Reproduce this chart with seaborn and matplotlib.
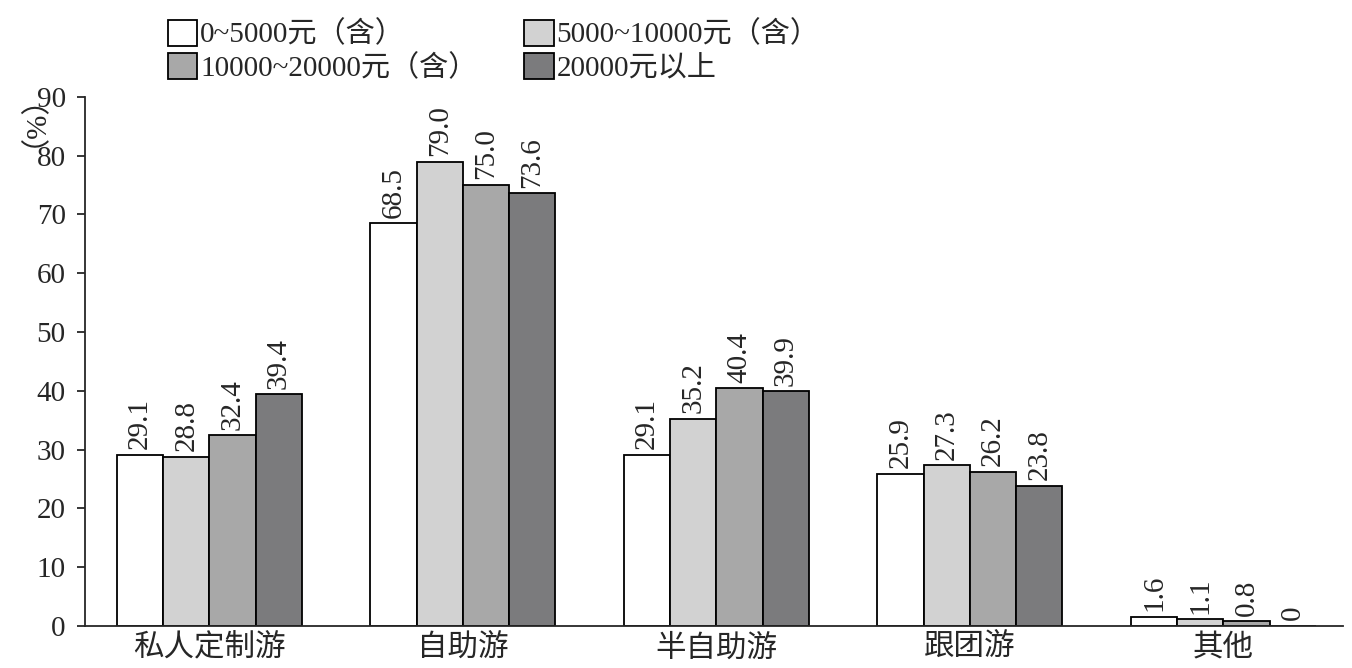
import matplotlib
matplotlib.use("Agg")
import matplotlib.pyplot as plt
import seaborn as sns
import pandas as pd

categories = ["私人定制游", "自助游", "半自助游", "跟团游", "其他"]
series = ["0~5000元（含）", "5000~10000元（含）", "10000~20000元（含）", "20000元以上"]
v1 = [29.1, 68.5, 29.1, 25.9, 1.6]
v2 = [28.8, 79.0, 35.2, 27.3, 1.1]
v3 = [32.4, 75.0, 40.4, 26.2, 0.8]
v4 = [39.4, 73.6, 39.9, 23.8, 0]
colors = ["#ffffff", "#d2d2d2", "#a8a8a8", "#7b7b7d"]

rows = []
for s, vals in zip(series, [v1, v2, v3, v4]):
    for c, v in zip(categories, vals):
        rows.append({"cat": c, "ser": s, "val": v})
df = pd.DataFrame(rows)

sns.set_style("ticks")
plt.rcParams['font.family'] = ['Liberation Serif', 'Noto Sans CJK SC']

fig = plt.figure(figsize=(13.52, 6.68), dpi=100)
ax = fig.add_axes([0.063, 0.063, 0.93, 0.792])
sns.barplot(data=df, x="cat", y="val", hue="ser", palette=colors, width=0.73,
            edgecolor="black", linewidth=1.3, ax=ax, legend=False)
for cont in ax.containers:
    labels = [("0" if b.get_height() == 0 else f"{b.get_height():.1f}") for b in cont]
    ax.bar_label(cont, labels=labels, rotation=90, padding=4, fontsize=21)

ax.set_ylim(0, 90)
ax.set_xlim(-0.49, 4.47)
ax.set_yticks(range(0, 91, 10))
ax.tick_params(axis='y', labelsize=21, direction='out', length=6, width=1.3, pad=8)
ax.tick_params(axis='x', labelsize=22, length=0, pad=6)
ax.set_xlabel("")
ax.set_ylabel("")
for s in ["top", "right"]:
    ax.spines[s].set_visible(False)
for s in ["left", "bottom"]:
    ax.spines[s].set_linewidth(1.3)
fig.text(0.004, 0.78, "（%）", rotation=90, fontsize=21, va="bottom", ha="left")

from matplotlib.patches import Patch
handles = [Patch(facecolor=c, edgecolor="black", linewidth=1.3) for c in colors]
order = [0, 2, 1, 3]
fig.legend([handles[i] for i in order], [series[i] for i in order],
           loc="upper left", bbox_to_anchor=(0.105, 1.01), ncol=2,
           frameon=False, fontsize=21, handlelength=1.0, handleheight=1.0,
           handletextpad=0.1, columnspacing=1.6, labelspacing=0.15)
fig.savefig("out.png", dpi=100)
